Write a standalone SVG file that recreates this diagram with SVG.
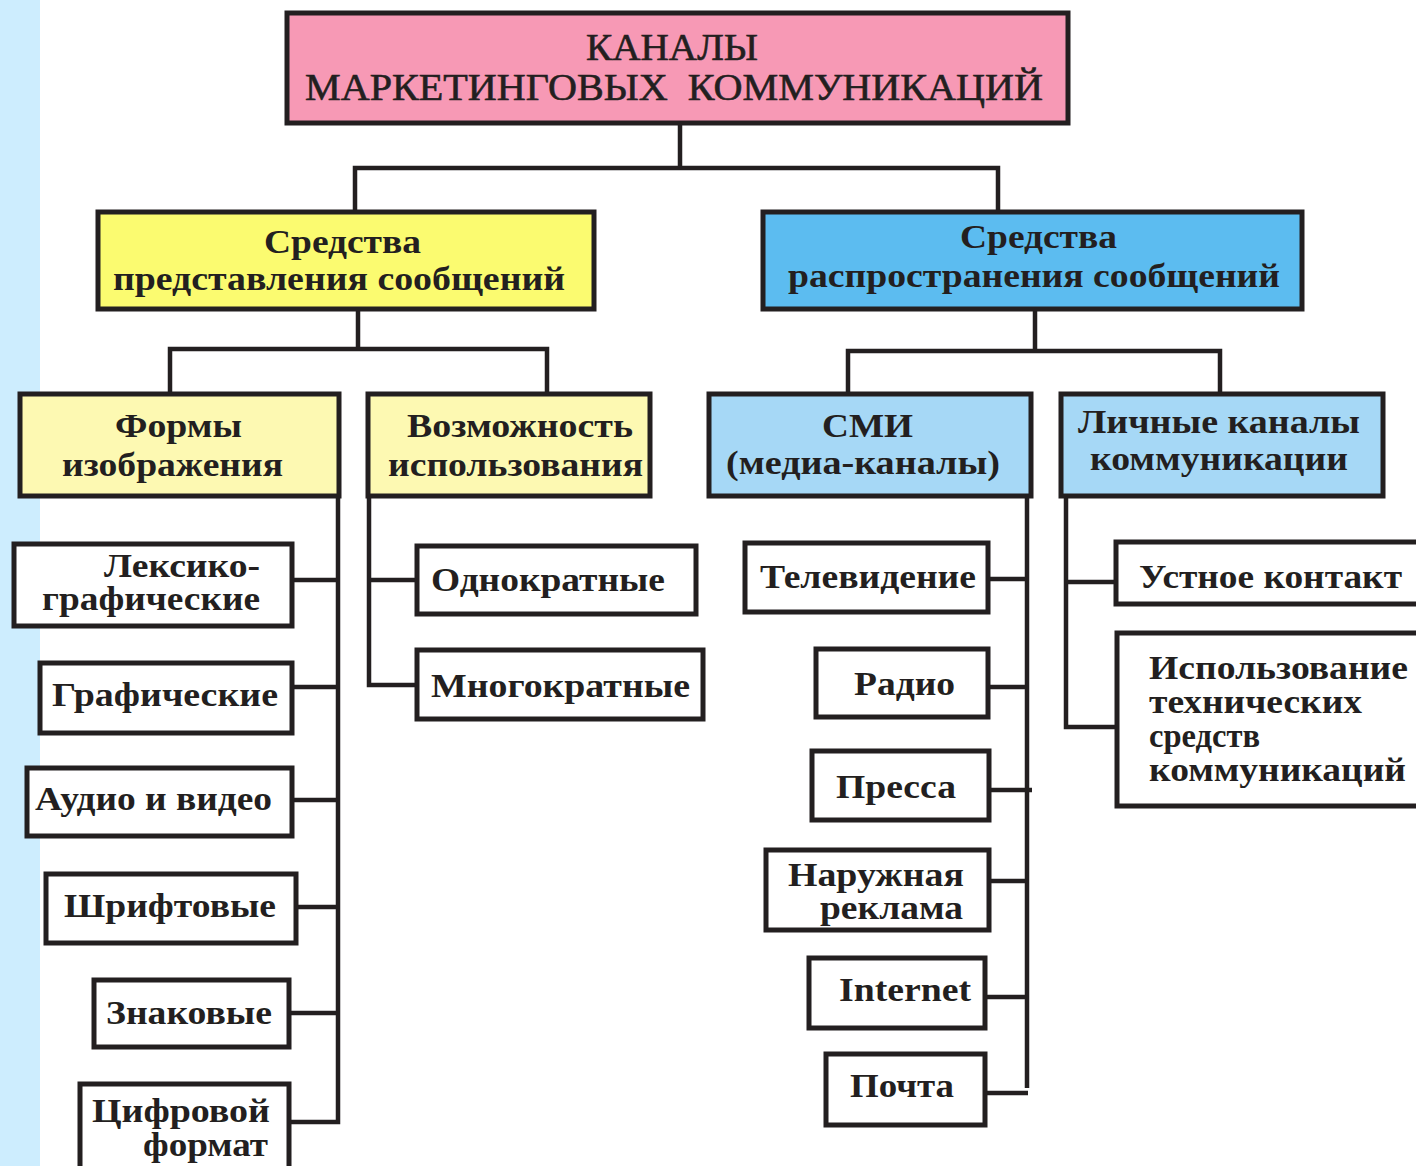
<svg xmlns="http://www.w3.org/2000/svg" width="1416" height="1166" viewBox="0 0 1416 1166">
<style>
.bx{stroke:#231f20;stroke-width:5}
.w{fill:#ffffff}
.t{font-family:"Liberation Serif","Times New Roman",serif;font-weight:bold;font-size:33px;fill:#231f20}
.tt{font-family:"Liberation Serif","Times New Roman",serif;font-size:38px;fill:#231f20;stroke:#231f20;stroke-width:0.6}
#connectors path{fill:none;stroke:#231f20;stroke-width:4.5}
</style>
<rect x="0" y="0" width="1416" height="1166" fill="#ffffff"/>
<rect x="0" y="0" width="40" height="1166" fill="#cdedfe"/>

<g id="connectors">
<path d="M680 124 V168 M355 211 V168 H998 V211"/>
<path d="M358 310 V349 M170 393 V349 H547 V393"/>
<path d="M1035 310 V351 M848 393 V351 H1220 V393"/>
<path d="M338 497 V1122 H290 M293 580 H338 M293 687 H338 M293 800 H338 M297 907 H338 M290 1013 H338"/>
<path d="M369 497 V685 H416 M369 580 H416"/>
<path d="M1027 497 V1088 M989 579 H1027 M989 687 H1027 M990 790 H1032 M990 881 H1027 M986 997 H1027 M986 1093 H1028"/>
<path d="M1066 497 V727 H1117 M1066 582 H1115"/>
</g>

<g id="n-root">
<rect class="bx" x="287" y="13" width="781" height="110" fill="#f799b5"/>
<text class="tt" x="586" y="60" textLength="172" lengthAdjust="spacingAndGlyphs">КАНАЛЫ</text>
<text class="tt" x="305" y="100" textLength="738" lengthAdjust="spacingAndGlyphs" xml:space="preserve">МАРКЕТИНГОВЫХ  КОММУНИКАЦИЙ</text>
</g>

<g id="n-present">
<rect class="bx" x="98" y="212" width="496" height="97" fill="#fbfb70"/>
<text class="t" x="264" y="253" textLength="157" lengthAdjust="spacingAndGlyphs">Средства</text>
<text class="t" x="113" y="290" textLength="452" lengthAdjust="spacingAndGlyphs">представления сообщений</text>
</g>

<g id="n-distrib">
<rect class="bx" x="763" y="212" width="539" height="97" fill="#5cbcf0"/>
<text class="t" x="960" y="248" textLength="157" lengthAdjust="spacingAndGlyphs">Средства</text>
<text class="t" x="788" y="287" textLength="492" lengthAdjust="spacingAndGlyphs">распространения сообщений</text>
</g>

<g id="n-forms">
<rect class="bx" x="20" y="394" width="319" height="102" fill="#fdf9b2"/>
<text class="t" x="115" y="437" textLength="127" lengthAdjust="spacingAndGlyphs">Формы</text>
<text class="t" x="62" y="476" textLength="221" lengthAdjust="spacingAndGlyphs">изображения</text>
</g>

<g id="n-usage">
<rect class="bx" x="368" y="394" width="282" height="102" fill="#fdf9b2"/>
<text class="t" x="407" y="437" textLength="226" lengthAdjust="spacingAndGlyphs">Возможность</text>
<text class="t" x="388" y="476" textLength="255" lengthAdjust="spacingAndGlyphs">использования</text>
</g>

<g id="n-media">
<rect class="bx" x="709" y="394" width="322" height="102" fill="#a6d8f6"/>
<text class="t" x="822" y="437" textLength="91" lengthAdjust="spacingAndGlyphs">СМИ</text>
<text class="t" x="726" y="474" textLength="274" lengthAdjust="spacingAndGlyphs">(медиа-каналы)</text>
</g>

<g id="n-personal">
<rect class="bx" x="1061" y="394" width="322" height="102" fill="#a6d8f6"/>
<text class="t" x="1078" y="433" textLength="282" lengthAdjust="spacingAndGlyphs">Личные каналы</text>
<text class="t" x="1090" y="470" textLength="258" lengthAdjust="spacingAndGlyphs">коммуникации</text>
</g>

<g id="n-lexico">
<rect class="bx w" x="14" y="544" width="278" height="82"/>
<text class="t" x="104" y="577" textLength="156" lengthAdjust="spacingAndGlyphs">Лексико-</text>
<text class="t" x="42" y="610" textLength="218" lengthAdjust="spacingAndGlyphs">графические</text>
</g>

<g id="n-graphic">
<rect class="bx w" x="40" y="663" width="252" height="70"/>
<text class="t" x="52" y="706" textLength="226" lengthAdjust="spacingAndGlyphs">Графические</text>
</g>

<g id="n-audio">
<rect class="bx w" x="27" y="768" width="265" height="68"/>
<text class="t" x="35" y="810" textLength="237" lengthAdjust="spacingAndGlyphs">Аудио и видео</text>
</g>

<g id="n-font">
<rect class="bx w" x="46" y="874" width="250" height="69"/>
<text class="t" x="64" y="917" textLength="212" lengthAdjust="spacingAndGlyphs">Шрифтовые</text>
</g>

<g id="n-sign">
<rect class="bx w" x="94" y="980" width="195" height="67"/>
<text class="t" x="106" y="1024" textLength="166" lengthAdjust="spacingAndGlyphs">Знаковые</text>
</g>

<g id="n-digital">
<rect class="bx w" x="80" y="1084" width="209" height="95"/>
<text class="t" x="92" y="1122" textLength="178" lengthAdjust="spacingAndGlyphs">Цифровой</text>
<text class="t" x="143" y="1156" textLength="125" lengthAdjust="spacingAndGlyphs">формат</text>
</g>

<g id="n-once">
<rect class="bx w" x="417" y="546" width="279" height="68"/>
<text class="t" x="431" y="591" textLength="234" lengthAdjust="spacingAndGlyphs">Однократные</text>
</g>

<g id="n-multi">
<rect class="bx w" x="417" y="650" width="286" height="69"/>
<text class="t" x="431" y="697" textLength="259" lengthAdjust="spacingAndGlyphs">Многократные</text>
</g>

<g id="n-tv">
<rect class="bx w" x="745" y="543" width="243" height="69"/>
<text class="t" x="760" y="588" textLength="216" lengthAdjust="spacingAndGlyphs">Телевидение</text>
</g>

<g id="n-radio">
<rect class="bx w" x="816" y="649" width="172" height="68"/>
<text class="t" x="854" y="695" textLength="101" lengthAdjust="spacingAndGlyphs">Радио</text>
</g>

<g id="n-press">
<rect class="bx w" x="812" y="751" width="177" height="69"/>
<text class="t" x="836" y="798" textLength="120" lengthAdjust="spacingAndGlyphs">Пресса</text>
</g>

<g id="n-outdoor">
<rect class="bx w" x="766" y="850" width="223" height="80"/>
<text class="t" x="788" y="886" textLength="176" lengthAdjust="spacingAndGlyphs">Наружная</text>
<text class="t" x="820" y="919" textLength="143" lengthAdjust="spacingAndGlyphs">реклама</text>
</g>

<g id="n-internet">
<rect class="bx w" x="809" y="958" width="176" height="70"/>
<text class="t" x="839" y="1001" textLength="132" lengthAdjust="spacingAndGlyphs">Internet</text>
</g>

<g id="n-mail">
<rect class="bx w" x="826" y="1054" width="159" height="71"/>
<text class="t" x="850" y="1097" textLength="104" lengthAdjust="spacingAndGlyphs">Почта</text>
</g>

<g id="n-oral">
<rect class="bx w" x="1116" y="542" width="320" height="62"/>
<text class="t" x="1139" y="588" textLength="263" lengthAdjust="spacingAndGlyphs">Устное контакт</text>
</g>

<g id="n-tech">
<rect class="bx w" x="1117" y="633" width="320" height="173"/>
<text class="t" x="1149" y="679" textLength="259" lengthAdjust="spacingAndGlyphs">Использование</text>
<text class="t" x="1149" y="713" textLength="213" lengthAdjust="spacingAndGlyphs">технических</text>
<text class="t" x="1149" y="747" textLength="111" lengthAdjust="spacingAndGlyphs">средств</text>
<text class="t" x="1149" y="781" textLength="257" lengthAdjust="spacingAndGlyphs">коммуникаций</text>
</g>
</svg>
